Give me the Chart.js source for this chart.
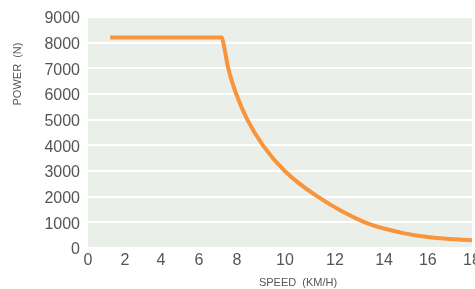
<!DOCTYPE html>
<html>
<head>
<meta charset="utf-8">
<script src="https://cdn.jsdelivr.net/npm/chart.js@4/dist/chart.umd.min.js"></script>
<style>
  html, body { margin: 0; padding: 0; background: #fff; }
  #wrap { width: 475px; height: 289px; }
</style>
</head>
<body>
<div id="wrap"><canvas id="chart"></canvas></div>
<script>
// Tractive force vs speed: flat plateau, then a fall-off curve.
const speedKmh = [1.2, 7.2, 7.28, 7.54, 7.96, 8.43, 9.08, 9.99, 11.31, 13.22, 14.73, 15.64, 16.55, 18];
const forceN   = [8200, 8200, 8000, 7000, 6000, 5000, 4000, 3000, 2000, 1000, 610, 470, 380, 300];

const xTickValues = [0, 2, 4, 6, 8, 10, 12, 14, 16, 18];
const yTickValues = [0, 1000, 2000, 3000, 4000, 5000, 6000, 7000, 8000, 9000];

const X_TITLE = "SPEED  (KM/H)";
const Y_TITLE = "POWER  (N)";

const FONT = '"Liberation Sans", Arial, Helvetica, sans-serif';
const TEXT = "#555";

// the source axis isn't evenly spaced: labels sit closer together below 8
const WARP_AT   = [0, 2, 4, 6, 8, 10, 12, 14, 16, 18];
const WARP_FRAC = [0, 0.0964, 0.190, 0.289, 0.388, 0.513, 0.643, 0.771, 0.885, 1];

class WarpedScale extends Chart.LinearScale {
  getPixelForValue(value) {
    let i = 1;
    while (i < WARP_AT.length - 1 && value > WARP_AT[i]) i++;
    const t = (value - WARP_AT[i - 1]) / (WARP_AT[i] - WARP_AT[i - 1]);
    return this.getPixelForDecimal(WARP_FRAC[i - 1] + t * (WARP_FRAC[i] - WARP_FRAC[i - 1]));
  }
  getValueForPixel(pixel) {
    const d = this.getDecimalForPixel(pixel);
    let i = 1;
    while (i < WARP_FRAC.length - 1 && d > WARP_FRAC[i]) i++;
    const t = (d - WARP_FRAC[i - 1]) / (WARP_FRAC[i] - WARP_FRAC[i - 1]);
    return WARP_AT[i - 1] + t * (WARP_AT[i] - WARP_AT[i - 1]);
  }
}
WarpedScale.id = "warped";
WarpedScale.defaults = Chart.LinearScale.defaults;
Chart.register(WarpedScale);

const plotBackground = {
  id: "plotBackground",
  beforeDraw(chart) {
    const { ctx, chartArea: a } = chart;
    ctx.save();
    ctx.fillStyle = "#ebefea";
    ctx.fillRect(a.left, a.top, a.right - a.left, a.bottom - a.top);
    ctx.restore();
  },
};

const axisTitles = {
  id: "axisTitles",
  afterDraw(chart) {
    const { ctx, chartArea: a } = chart;
    ctx.save();
    ctx.fillStyle = TEXT;
    ctx.font = "11px " + FONT;
    ctx.textAlign = "center";
    ctx.textBaseline = "middle";
    ctx.fillText(X_TITLE, a.left + 210, 283);
    ctx.translate(18, a.top + 57);
    ctx.rotate(-Math.PI / 2);
    ctx.fillText(Y_TITLE, 0, 0);
    ctx.restore();
  },
};

new Chart(document.getElementById("chart"), {
  type: "line",
  data: {
    datasets: [{
      data: speedKmh.map((s, i) => ({ x: s, y: forceN[i] })),
      borderColor: "#f7943c",
      borderWidth: 4,
      pointRadius: 0,
      fill: false,
      cubicInterpolationMode: "monotone",
    }],
  },
  options: {
    responsive: true,
    maintainAspectRatio: false,
    animation: false,
    layout: { padding: { top: 17, right: 3, bottom: 0, left: 0 } },
    plugins: { legend: { display: false }, tooltip: { enabled: false } },
    scales: {
      x: {
        type: "warped",
        min: 0,
        max: 18,
        afterBuildTicks: (s) => { s.ticks = xTickValues.map(v => ({ value: v })); },
        afterFit: (s) => { s.height = 41; s.paddingLeft = 0; s.paddingRight = 0; },
        grid: { display: false, drawTicks: false },
        border: { display: false },
        ticks: { color: TEXT, font: { family: FONT, size: 16 }, padding: 3, maxRotation: 0,
                 callback: (v) => String(v) },
      },
      y: {
        min: 0,
        max: 9000,
        afterBuildTicks: (s) => { s.ticks = yTickValues.map(v => ({ value: v })); },
        afterFit: (s) => { s.width = 88; s.paddingTop = 0; s.paddingBottom = 0; },
        grid: { color: "#ffffff", lineWidth: 2, drawTicks: false },
        border: { display: false },
        ticks: { color: TEXT, font: { family: FONT, size: 16 }, padding: 8, labelOffset: 2,
                 callback: (v) => String(v) },
      },
    },
  },
  plugins: [plotBackground, axisTitles],
});
</script>
</body>
</html>
